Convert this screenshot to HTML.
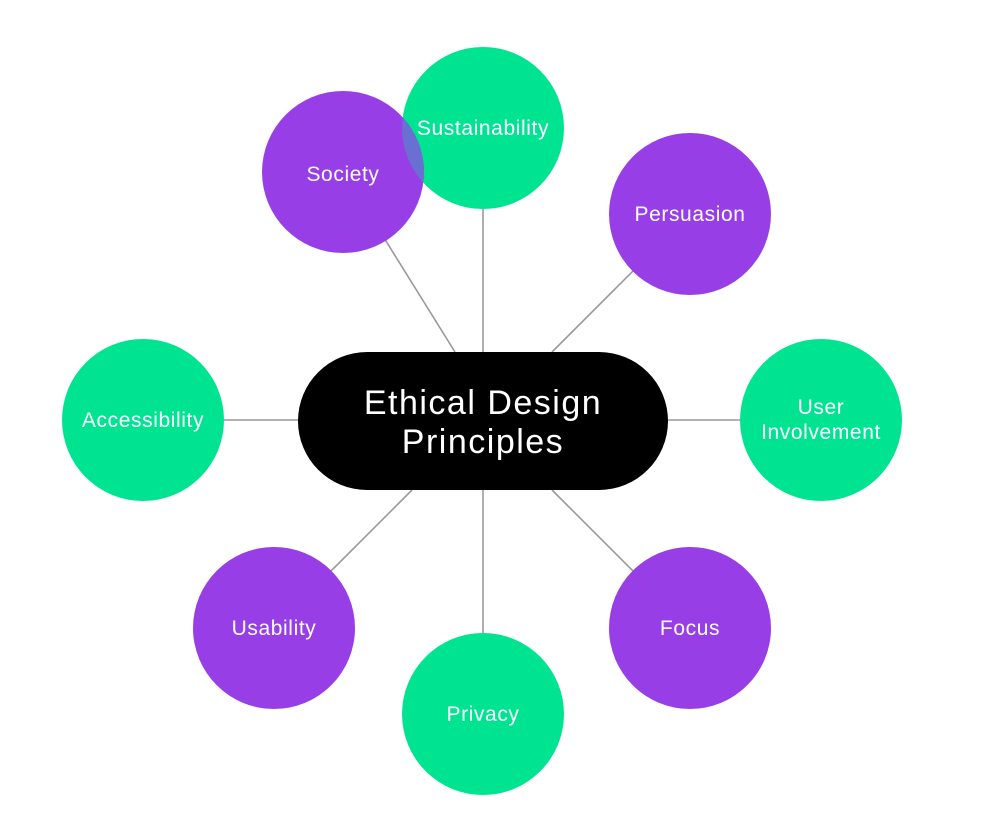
<!DOCTYPE html>
<html><head><style>body{margin:0;background:#fff}svg{display:block}</style></head>
<body>
<svg width="990" height="840" viewBox="0 0 990 840" xmlns="http://www.w3.org/2000/svg">
<defs><clipPath id="c"><circle cx="483" cy="128" r="81"/></clipPath></defs>
<g stroke="#999" stroke-width="1.6">
<line x1="343" y1="172" x2="455" y2="352"/>
<line x1="483" y1="128" x2="483" y2="352"/>
<line x1="690" y1="214" x2="552" y2="352"/>
<line x1="143" y1="420" x2="298" y2="420"/>
<line x1="668" y1="420" x2="821" y2="420"/>
<line x1="552" y1="490" x2="690" y2="628"/>
<line x1="483" y1="490" x2="483" y2="714"/>
<line x1="412" y1="490" x2="274" y2="628"/>
</g>
<g fill="#00e492">
<circle cx="483" cy="128" r="81"/>
<circle cx="821" cy="420" r="81"/>
<circle cx="483" cy="714" r="81"/>
<circle cx="143" cy="420" r="81"/>
</g>
<g fill="#973ee6">
<circle cx="343" cy="172" r="81"/>
<circle cx="690" cy="214" r="81"/>
<circle cx="690" cy="628" r="81"/>
<circle cx="274" cy="628" r="81"/>
</g>
<circle cx="343" cy="172" r="81" fill="#6a6fd2" clip-path="url(#c)"/>
<rect x="298" y="352" width="370" height="138" rx="69" fill="#000"/>
<g fill="#fff" font-family="Liberation Sans, sans-serif" font-size="21" letter-spacing="0.6" text-anchor="middle">
<text x="483" y="135">Sustainability</text>
<text x="343" y="181">Society</text>
<text x="690" y="221">Persuasion</text>
<text x="821" y="414">User</text>
<text x="821" y="439">Involvement</text>
<text x="143" y="427">Accessibility</text>
<text x="690" y="635">Focus</text>
<text x="274" y="635">Usability</text>
<text x="483" y="721">Privacy</text>
<text x="483" y="414" font-size="34" letter-spacing="1.5">Ethical Design</text>
<text x="483" y="453" font-size="34" letter-spacing="1.5">Principles</text>
</g>
</svg>
</body></html>
